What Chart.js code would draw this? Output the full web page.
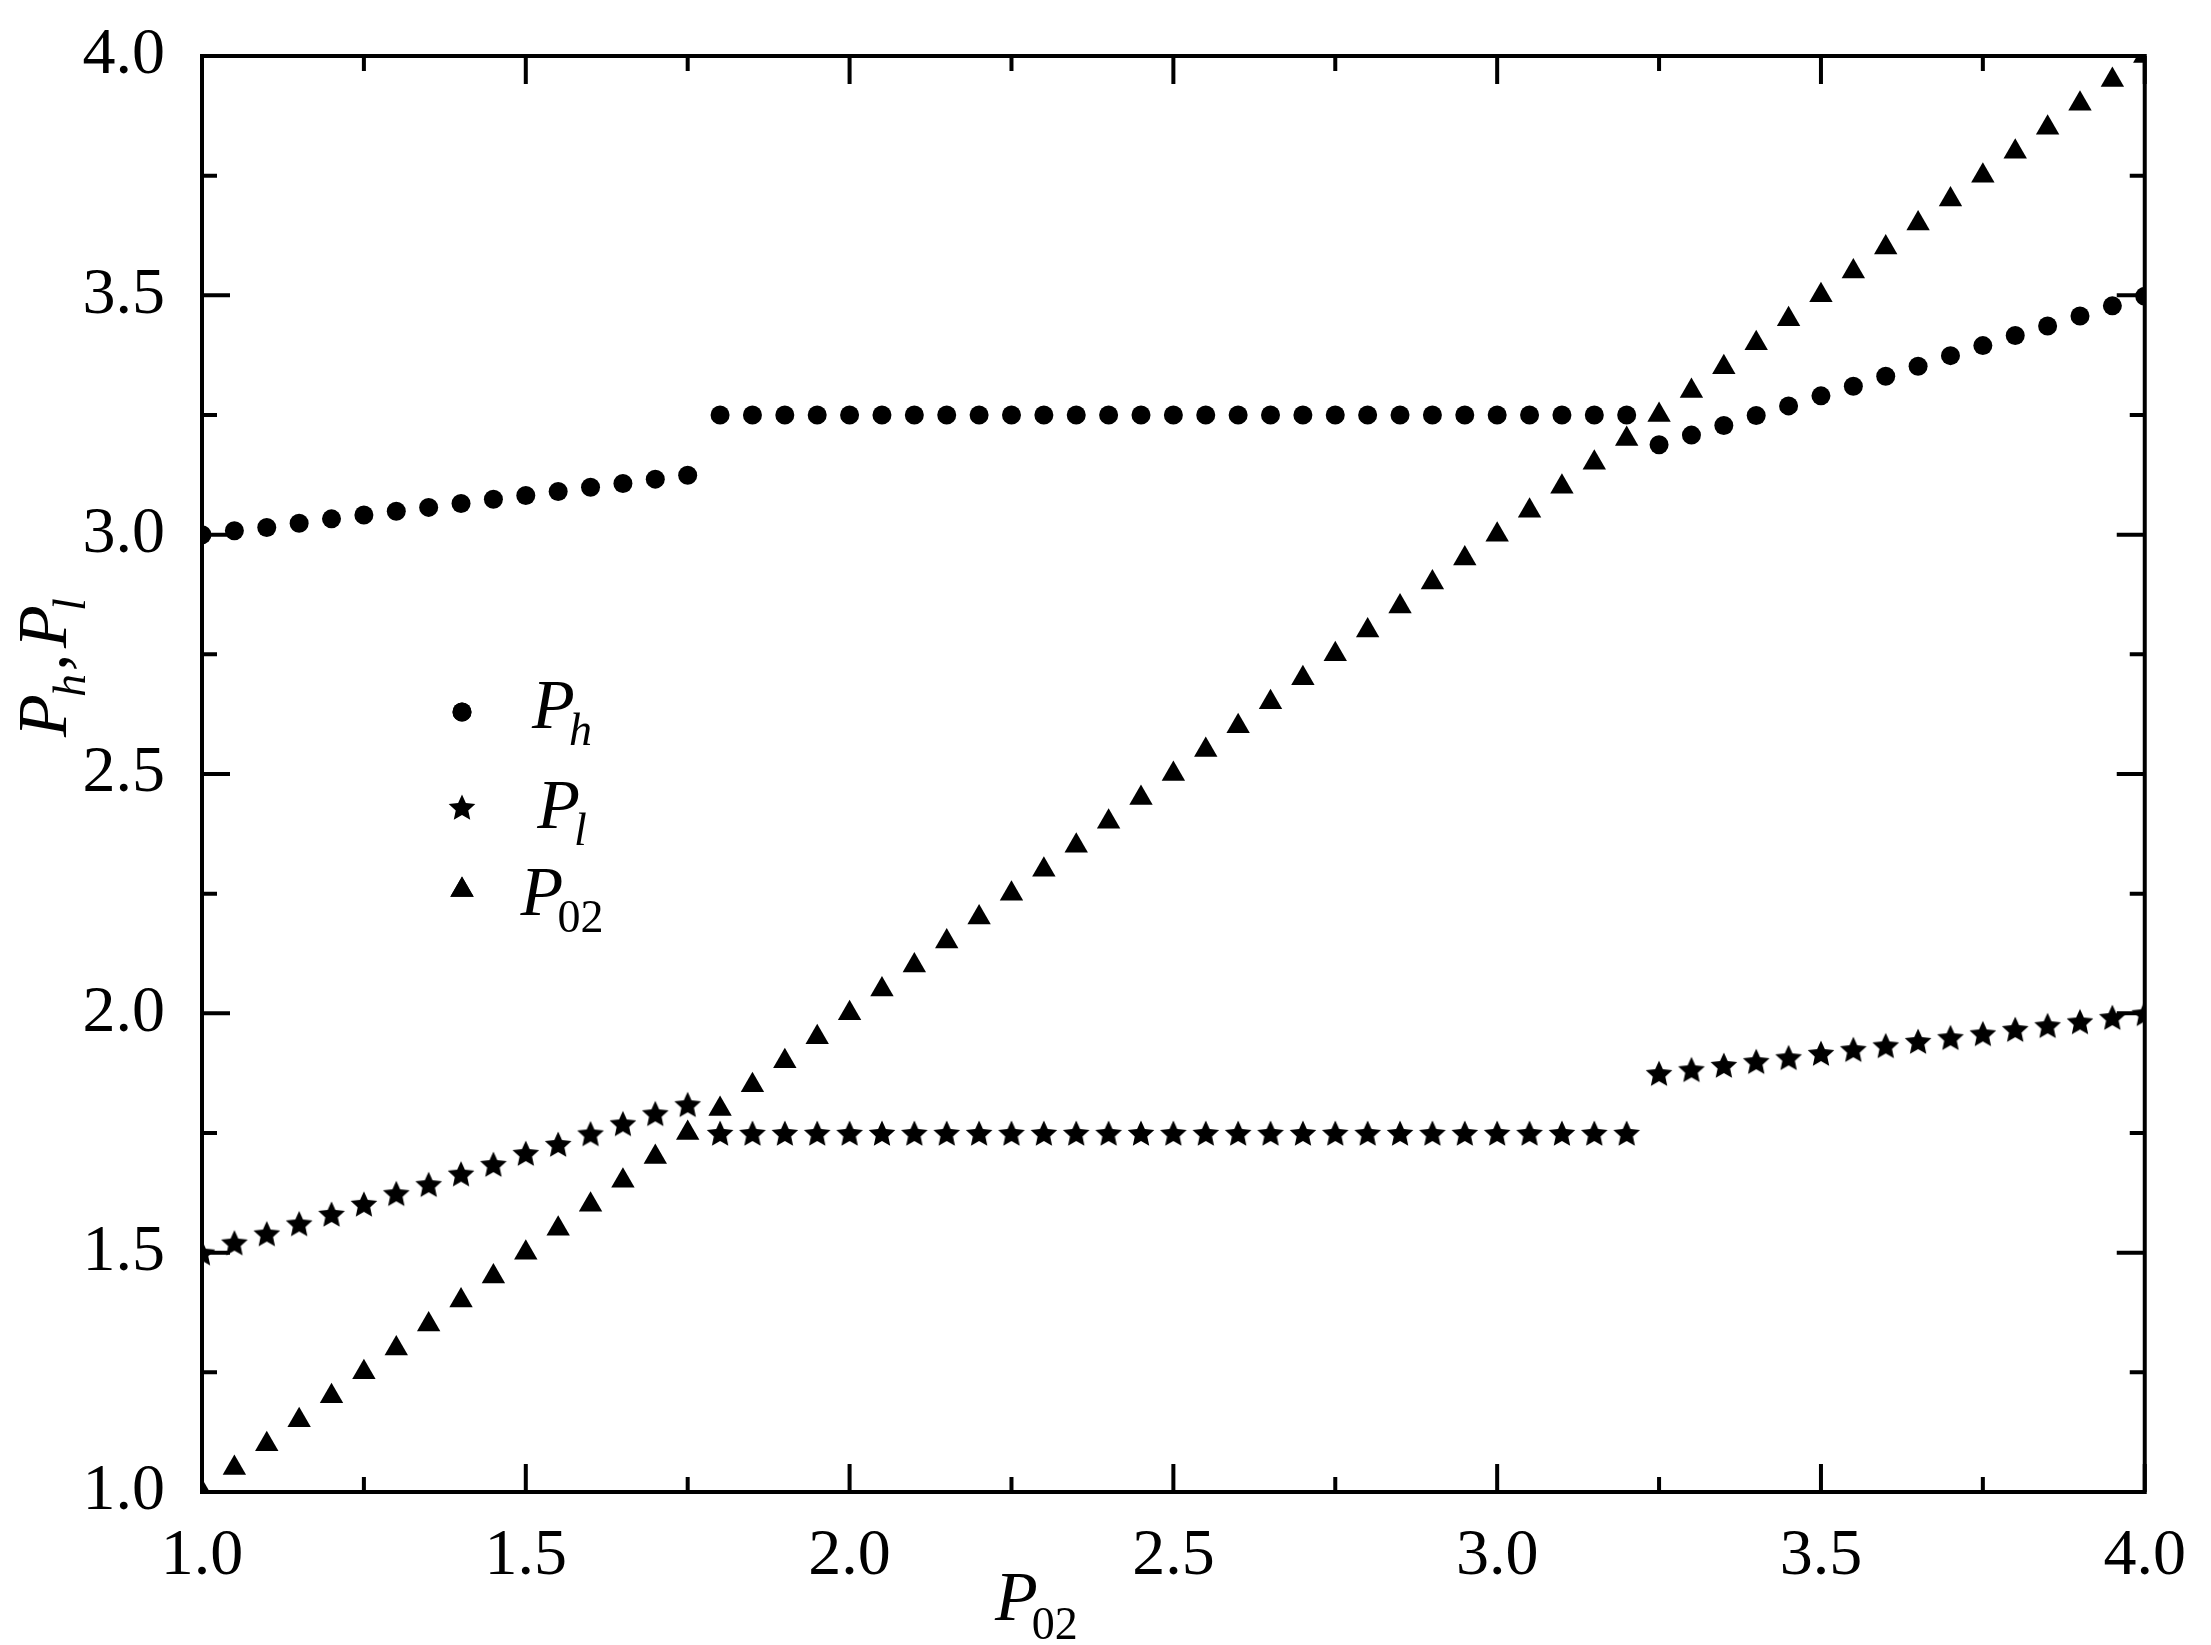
<!DOCTYPE html>
<html>
<head>
<meta charset="utf-8">
<script src="https://cdn.jsdelivr.net/npm/chart.js@4.4.1/dist/chart.umd.min.js"></script>
<style>
  html, body { margin: 0; padding: 0; background: #ffffff; }
  #box { width: 2211px; height: 1645px; }
</style>
</head>
<body>
<div id="box"><canvas id="grafico"></canvas></div>
<script>
// Valores
const p02 = [1.00, 1.05, 1.10, 1.15, 1.20, 1.25, 1.30, 1.35, 1.40, 1.45,
             1.50, 1.55, 1.60, 1.65, 1.70, 1.75, 1.80, 1.85, 1.90, 1.95,
             2.00, 2.05, 2.10, 2.15, 2.20, 2.25, 2.30, 2.35, 2.40, 2.45,
             2.50, 2.55, 2.60, 2.65, 2.70, 2.75, 2.80, 2.85, 2.90, 2.95,
             3.00, 3.05, 3.10, 3.15, 3.20, 3.25, 3.30, 3.35, 3.40, 3.45,
             3.50, 3.55, 3.60, 3.65, 3.70, 3.75, 3.80, 3.85, 3.90, 3.95, 4.00];

const ph = [3.000, 3.008, 3.015, 3.024, 3.033, 3.041, 3.049, 3.057, 3.065, 3.074,
            3.082, 3.090, 3.099, 3.107, 3.116, 3.124, 3.25, 3.25, 3.25, 3.25,
            3.25, 3.25, 3.25, 3.25, 3.25, 3.25, 3.25, 3.25, 3.25, 3.25,
            3.25, 3.25, 3.25, 3.25, 3.25, 3.25, 3.25, 3.25, 3.25, 3.25,
            3.25, 3.25, 3.25, 3.25, 3.25, 3.188, 3.208, 3.228, 3.249, 3.269,
            3.290, 3.310, 3.331, 3.352, 3.374, 3.395, 3.416, 3.436, 3.457, 3.478, 3.498];

const pl = [1.500, 1.521, 1.540, 1.561, 1.581, 1.602, 1.624, 1.643, 1.665, 1.685,
            1.708, 1.727, 1.749, 1.770, 1.791, 1.810, 1.75, 1.75, 1.75, 1.75,
            1.75, 1.75, 1.75, 1.75, 1.75, 1.75, 1.75, 1.75, 1.75, 1.75,
            1.75, 1.75, 1.75, 1.75, 1.75, 1.75, 1.75, 1.75, 1.75, 1.75,
            1.75, 1.75, 1.75, 1.75, 1.75, 1.875, 1.883, 1.892, 1.900, 1.908,
            1.917, 1.925, 1.933, 1.942, 1.950, 1.958, 1.967, 1.975, 1.983, 1.992, 2.000];

// P02 como série: valores iguais ao eixo x
const p02Serie = p02;

const legendas = ['P_h', 'P_l', 'P_02'];
const tituloX = 'P_02';

const fonte = 'Liberation Serif';

// Estrela preenchida (o 'star' do Chart.js é só contorno)
function criarEstrela(r) {
    const c = document.createElement('canvas');
    const s = Math.ceil(r * 2 + 2);
    c.width = s;
    c.height = s;
    const g = c.getContext('2d');
    g.fillStyle = '#000';
    g.beginPath();
    for (let i = 0; i < 10; i++) {
        const raio = i % 2 === 0 ? r : r * 0.47;
        const ang = -Math.PI / 2 + i * Math.PI / 5;
        const px = s / 2 + raio * Math.cos(ang);
        const py = s / 2 + raio * Math.sin(ang) + r * 0.1;
        if (i === 0) g.moveTo(px, py); else g.lineTo(px, py);
    }
    g.closePath();
    g.fill();
    return c;
}
const estrela = criarEstrela(14);

// Texto com subscrito (P_h etc.)
function textoSub(ctx, txt, x, y, tam, subTam, desce) {
    const [base, sub] = txt.split('_');
    ctx.font = 'italic ' + tam + 'px "' + fonte + '"';
    ctx.fillText(base, x, y);
    const w = ctx.measureText(base).width;
    const italico = /[a-z]/i.test(sub);
    ctx.font = (italico ? 'italic ' : '') + subTam + 'px "' + fonte + '"';
    ctx.fillText(sub, x + w - 6, y + desce);
    return w - 6 + ctx.measureText(sub).width;
}

function larguraSub(ctx, txt, tam, subTam) {
    const [base, sub] = txt.split('_');
    ctx.font = 'italic ' + tam + 'px "' + fonte + '"';
    const w = ctx.measureText(base).width;
    const italico = /[a-z]/i.test(sub);
    ctx.font = (italico ? 'italic ' : '') + subTam + 'px "' + fonte + '"';
    return w - 6 + ctx.measureText(sub).width;
}

// Moldura e marcas para dentro nos quatro lados
const molduraPlugin = {
    id: 'moldura',
    afterDraw(chart) {
        const { ctx, chartArea: a, scales } = chart;
        const sx = scales.x, sy = scales.y;
        ctx.save();
        ctx.strokeStyle = '#000';
        ctx.lineWidth = 4;
        ctx.lineCap = 'square';
        ctx.strokeRect(a.left, a.top, a.right - a.left, a.bottom - a.top);
        ctx.lineCap = 'butt';

        const maior = 28, menor = 15;
        function marcas(escala) {
            const vals = escala.ticks.map(t => t.value);
            const lista = [];
            vals.forEach((v, i) => {
                lista.push([v, maior]);
                if (i < vals.length - 1) lista.push([(v + vals[i + 1]) / 2, menor]);
            });
            return lista;
        }
        marcas(sx).forEach(([v, len]) => {
            const px = sx.getPixelForValue(v);
            ctx.beginPath();
            ctx.moveTo(px, a.bottom); ctx.lineTo(px, a.bottom - len);
            ctx.moveTo(px, a.top); ctx.lineTo(px, a.top + len);
            ctx.stroke();
        });
        marcas(sy).forEach(([v, len]) => {
            const py = sy.getPixelForValue(v);
            ctx.beginPath();
            ctx.moveTo(a.left, py); ctx.lineTo(a.left + len, py);
            ctx.moveTo(a.right, py); ctx.lineTo(a.right - len, py);
            ctx.stroke();
        });
        ctx.restore();
    }
};

// Títulos dos eixos e legenda com subscritos
const textosPlugin = {
    id: 'textos',
    afterDraw(chart) {
        const { ctx } = chart;
        ctx.save();
        ctx.fillStyle = '#000';
        ctx.textAlign = 'left';
        ctx.textBaseline = 'alphabetic';

        // título do eixo x
        textoSub(ctx, tituloX, 995, 1620, 70, 46, 19);

        // título do eixo y (rodado): P_h , P_l
        ctx.save();
        ctx.translate(66, 737);
        ctx.rotate(-Math.PI / 2);
        ctx.font = 'italic 70px "' + fonte + '"';
        ctx.fillText('P', 0, 0);
        ctx.fillText(',', 66, 0);
        ctx.fillText('P', 89, 0);
        ctx.font = 'italic 46px "' + fonte + '"';
        ctx.fillText('h', 40, 19);
        ctx.fillText('l', 126, 19);
        ctx.restore();

        // legenda
        const posY = [712, 807, 890];
        const baseY = [728, 828, 915];
        chart.data.datasets.forEach((ds, i) => {
            if (ds.pointStyle instanceof HTMLCanvasElement) {
                const img = ds.pointStyle;
                ctx.drawImage(img, 462 - img.width / 2, posY[i] - img.height / 2);
            } else {
                Chart.helpers.drawPoint(ctx, { pointStyle: ds.pointStyle, radius: ds.pointRadius, borderWidth: 0, rotation: 0 }, 462, posY[i]);
                ctx.fillStyle = '#000';
                ctx.fill();
            }
            const w = larguraSub(ctx, ds.label, 70, 46);
            textoSub(ctx, ds.label, 562 - w / 2, baseY[i], 70, 46, 17);
        });
        ctx.restore();
    }
};

function pontos(ys) {
    return p02.map((x, i) => ({ x: x, y: ys[i] }));
}

const ctx = document.getElementById('grafico').getContext('2d');
new Chart(ctx, {
    type: 'scatter',
    data: {
        datasets: [
            {
                label: legendas[0],
                data: pontos(ph),
                pointStyle: 'circle',
                pointRadius: 9.5,
                backgroundColor: '#000',
                borderWidth: 0,
                clip: 0
            },
            {
                label: legendas[1],
                data: pontos(pl),
                pointStyle: estrela,
                pointRadius: 14,
                backgroundColor: '#000',
                borderWidth: 0,
                clip: 0
            },
            {
                label: legendas[2],
                data: pontos(p02Serie),
                pointStyle: 'triangle',
                pointRadius: 13.5,
                backgroundColor: '#000',
                borderWidth: 0,
                clip: 0
            }
        ]
    },
    options: {
        responsive: true,
        maintainAspectRatio: false,
        animation: false,
        events: [],
        layout: {
            padding: { top: 56, right: 65, left: 0, bottom: 0 }
        },
        plugins: {
            legend: { display: false },
            tooltip: { enabled: false }
        },
        scales: {
            x: {
                type: 'linear',
                min: 1,
                max: 4,
                grid: { display: false, drawTicks: false },
                border: { display: false },
                ticks: {
                    stepSize: 0.5,
                    padding: 25,
                    maxRotation: 0,
                    color: '#000',
                    font: { family: fonte, size: 66 },
                    callback: v => v.toFixed(1)
                },
                afterFit: s => { s.height = 153; }
            },
            y: {
                type: 'linear',
                min: 1,
                max: 4,
                grid: { display: false, drawTicks: false },
                border: { display: false },
                ticks: {
                    stepSize: 0.5,
                    padding: 37,
                    color: '#000',
                    font: { family: fonte, size: 66, lineHeight: 0.5 },
                    callback: v => v.toFixed(1)
                },
                afterFit: s => { s.width = 202; }
            }
        }
    },
    plugins: [molduraPlugin, textosPlugin]
});
</script>
</body>
</html>
